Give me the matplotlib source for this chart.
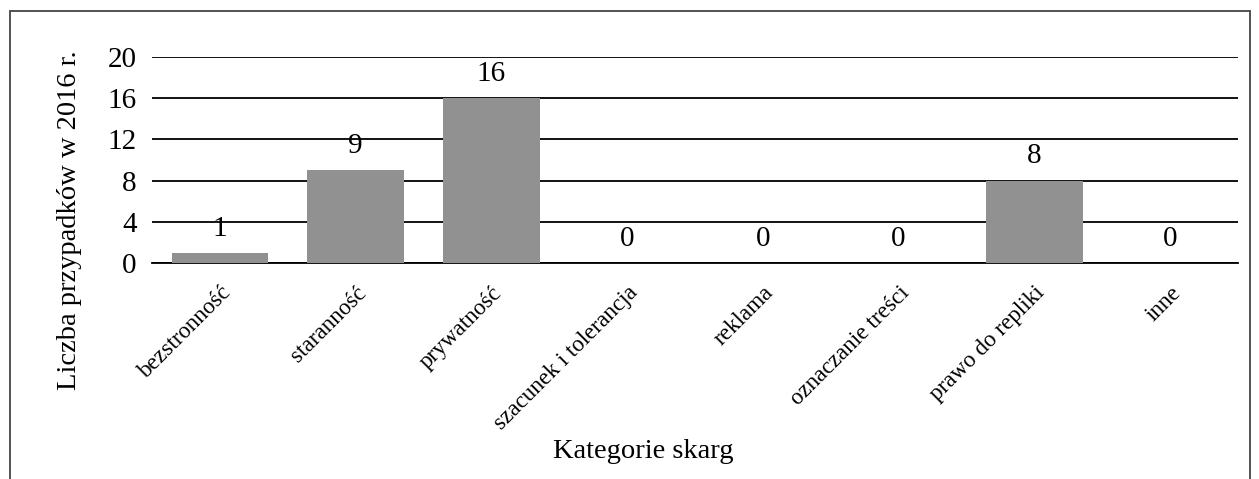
import matplotlib.pyplot as plt
from matplotlib.patches import Rectangle
import numpy as np

plt.rcParams['font.family'] = ['Liberation Serif', 'DejaVu Serif']

kategorie = ["bezstronność", "staranność", "prywatność", "szacunek i tolerancja",
             "reklama", "oznaczanie treści", "prawo do repliki", "inne"]
liczba = [1, 9, 16, 0, 0, 0, 8, 0]

fig = plt.figure(figsize=(12.59, 4.79), dpi=100)
W, H = 1259, 479
ax = fig.add_axes([152 / W, 1 - 263 / H, (1238 - 152) / W, (263 - 57) / H])

x = np.arange(len(kategorie))
ax.bar(x, liczba, width=0.71, color='#919191', zorder=3)
for xi, v in zip(x, liczba):
    ax.annotate(str(v), (xi, v), xytext=(0, 8), textcoords='offset points',
                ha='center', va='bottom', fontsize=21)

ax.set_xlim(-0.5, len(kategorie) - 0.5)
ax.set_ylim(0, 20)
ax.set_yticks([0, 4, 8, 12, 16, 20])
ax.grid(axis='y', color='black', linewidth=1.3, zorder=0)
ax.tick_params(axis='y', length=0, labelsize=21, pad=11)
ax.tick_params(axis='x', length=0, labelsize=16.7, pad=14)
ax.set_xticks(x)
ax.set_xticklabels(kategorie, rotation=45, ha='right', rotation_mode='anchor')
for s in ['top', 'right', 'left']:
    ax.spines[s].set_visible(False)
ax.spines['bottom'].set_linewidth(1.3)

fig.text(643 / W, 1 - 452 / H, "Kategorie skarg", ha='center', va='center', fontsize=20.5)
fig.text(70 / W, 1 - 220 / H, "Liczba przypadków w 2016 r.", ha='center', va='center',
         rotation=90, fontsize=20.5)

fig.patches.append(Rectangle((10 / W, -0.05), (1250 - 10) / W, 1.05 - 11 / H,
                             transform=fig.transFigure, fill=False,
                             edgecolor='#444444', linewidth=1.3))

fig.savefig("out.png", dpi=100)
